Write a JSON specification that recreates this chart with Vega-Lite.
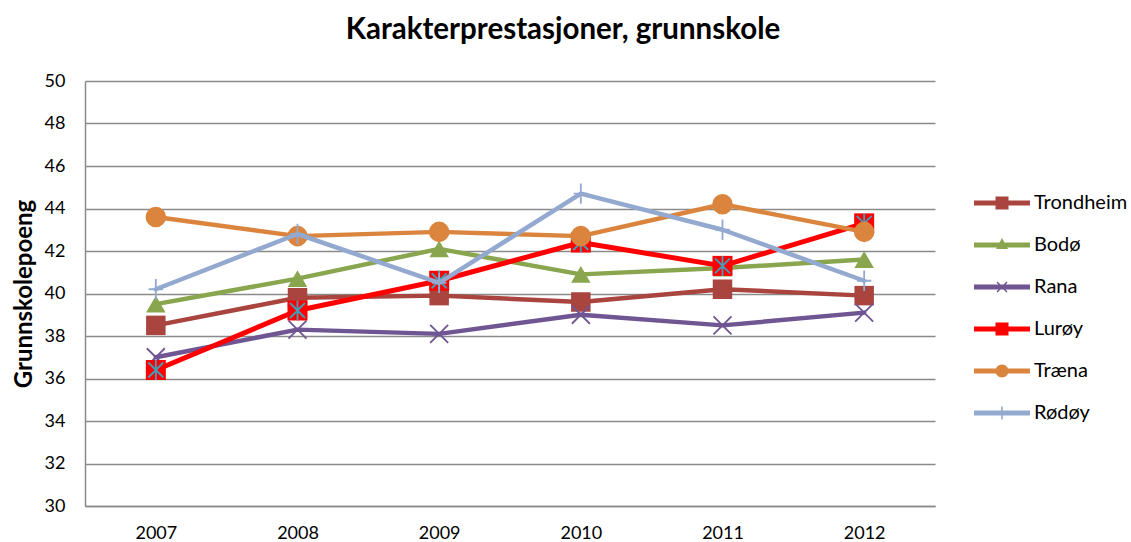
{
  "$schema": "https://vega.github.io/schema/vega-lite/v6.json",
  "width": 850,
  "height": 425,
  "autosize": "none",
  "padding": {"left": 85, "top": 81, "right": 196, "bottom": 36},
  "background": "white",
  "config": {"font": "Lato", "view": {"stroke": null}},
  "title": {"text": "Karakterprestasjoner, grunnskole", "fontSize": 29.5, "fontWeight": "bold", "color": "#000000", "anchor": "middle", "frame": "group", "dx": 53, "offset": 27},
  "data": {"values": [
    {"year": "2007", "series": "Trondheim", "value": 38.5},
    {"year": "2008", "series": "Trondheim", "value": 39.8},
    {"year": "2009", "series": "Trondheim", "value": 39.9},
    {"year": "2010", "series": "Trondheim", "value": 39.6},
    {"year": "2011", "series": "Trondheim", "value": 40.2},
    {"year": "2012", "series": "Trondheim", "value": 39.9},
    {"year": "2007", "series": "Bodø", "value": 39.5},
    {"year": "2008", "series": "Bodø", "value": 40.7},
    {"year": "2009", "series": "Bodø", "value": 42.1},
    {"year": "2010", "series": "Bodø", "value": 40.9},
    {"year": "2011", "series": "Bodø", "value": 41.2},
    {"year": "2012", "series": "Bodø", "value": 41.6},
    {"year": "2007", "series": "Rana", "value": 37.0},
    {"year": "2008", "series": "Rana", "value": 38.3},
    {"year": "2009", "series": "Rana", "value": 38.1},
    {"year": "2010", "series": "Rana", "value": 39.0},
    {"year": "2011", "series": "Rana", "value": 38.5},
    {"year": "2012", "series": "Rana", "value": 39.1},
    {"year": "2007", "series": "Lurøy", "value": 36.4},
    {"year": "2008", "series": "Lurøy", "value": 39.2},
    {"year": "2009", "series": "Lurøy", "value": 40.6},
    {"year": "2010", "series": "Lurøy", "value": 42.4},
    {"year": "2011", "series": "Lurøy", "value": 41.3},
    {"year": "2012", "series": "Lurøy", "value": 43.3},
    {"year": "2007", "series": "Træna", "value": 43.6},
    {"year": "2008", "series": "Træna", "value": 42.7},
    {"year": "2009", "series": "Træna", "value": 42.9},
    {"year": "2010", "series": "Træna", "value": 42.7},
    {"year": "2011", "series": "Træna", "value": 44.2},
    {"year": "2012", "series": "Træna", "value": 42.9},
    {"year": "2007", "series": "Rødøy", "value": 40.2},
    {"year": "2008", "series": "Rødøy", "value": 42.8},
    {"year": "2009", "series": "Rødøy", "value": 40.5},
    {"year": "2010", "series": "Rødøy", "value": 44.7},
    {"year": "2011", "series": "Rødøy", "value": 43.0},
    {"year": "2012", "series": "Rødøy", "value": 40.6}
  ]},
  "encoding": {
    "x": {"field": "year", "type": "ordinal", "scale": {"type": "point", "padding": 0.5},
      "axis": {"title": null, "labelAngle": 0, "ticks": false, "grid": false, "domainColor": "#8A8A8A", "domainWidth": 1.5, "labelFontSize": 18, "labelColor": "#000000", "labelPadding": 18}},
    "y": {"field": "value", "type": "quantitative", "scale": {"domain": [30, 50], "nice": false, "zero": false},
      "axis": {"title": "Grunnskolepoeng", "titleFontSize": 24, "titleFontWeight": "bold", "titleColor": "#000000", "titlePadding": 8,
        "values": [30, 32, 34, 36, 38, 40, 42, 44, 46, 48, 50], "ticks": false, "grid": true, "gridColor": "#8A8A8A", "gridWidth": 1.5,
        "domainColor": "#8A8A8A", "domainWidth": 1.5, "labelFontSize": 18, "labelColor": "#000000", "labelPadding": 20}},
    "color": {"field": "series", "type": "nominal",
      "scale": {"domain": ["Trondheim", "Bodø", "Rana", "Lurøy", "Træna", "Rødøy"], "range": ["#A9443F", "#89A54E", "#6F5592", "#FF0000", "#DB843D", "#93A9CF"]},
      "legend": {"orient": "none", "legendX": 889, "legendY": 112, "title": null, "padding": 0, "symbolSize": 400, "labelOffset": 40, "rowPadding": 22, "labelFontSize": 20, "labelColor": "#000000", "symbolStrokeWidth": 0,
        "encode": {"symbols": {"update": {
          "shape": {"signal": "datum.value == 'Trondheim' ? 'M-1,-0.25H4.6V0.25H-1ZM1.15,-0.65H2.45V0.65H1.15Z' : datum.value == 'Bodø' ? 'M-1,-0.25H4.6V0.25H-1ZM1.8,-0.7L2.4,0.4H1.2Z' : datum.value == 'Rana' ? 'M-1,-0.25H4.6V0.25H-1ZM1.35,-0.55L2.35,0.45L2.25,0.55L1.25,-0.45ZM2.35,-0.45L1.35,0.55L1.25,0.45L2.25,-0.55Z' : datum.value == 'Lurøy' ? 'M-1,-0.25H4.6V0.25H-1ZM1.15,-0.65H2.45V0.65H1.15Z' : datum.value == 'Træna' ? 'M-1,-0.25H4.6V0.25H-1ZM1.15,0A0.65,0.65 0 1,1 2.45,0A0.65,0.65 0 1,1 1.15,0Z' : 'M-1,-0.25H4.6V0.25H-1ZM1.72,-0.65H1.88V0.65H1.72Z'"},
          "size": {"value": 400},
          "fill": {"scale": "color", "field": "value"},
          "stroke": {"value": "transparent"},
          "strokeWidth": {"value": 0},
          "opacity": {"value": 1},
          "fillOpacity": {"value": 1}
        }}}}
    }
  },
  "layer": [
    {"transform": [{"filter": "datum.series == 'Trondheim'"}], "layer": [
      {"mark": {"type": "line", "strokeWidth": 4.5, "strokeJoin": "round", "strokeCap": "round"}},
      {"mark": {"type": "point", "shape": "square", "filled": true, "opacity": 1, "size": 380}}
    ]},
    {"transform": [{"filter": "datum.series == 'Bodø'"}], "layer": [
      {"mark": {"type": "line", "strokeWidth": 4.5, "strokeJoin": "round", "strokeCap": "round"}},
      {"mark": {"type": "point", "shape": "triangle-up", "filled": true, "opacity": 1, "size": 380}}
    ]},
    {"transform": [{"filter": "datum.series == 'Rana'"}], "layer": [
      {"mark": {"type": "line", "strokeWidth": 4.5, "strokeJoin": "round", "strokeCap": "round"}},
      {"mark": {"type": "point", "shape": "M-1,-1L1,1M1,-1L-1,1", "filled": false, "opacity": 1, "size": 324, "strokeWidth": 1.8}}
    ]},
    {"transform": [{"filter": "datum.series == 'Lurøy'"}], "layer": [
      {"mark": {"type": "line", "strokeWidth": 5, "strokeJoin": "round", "strokeCap": "round"}},
      {"mark": {"type": "point", "shape": "square", "filled": true, "opacity": 1, "size": 400}},
      {"mark": {"type": "point", "shape": "M-0.75,-0.75L0.75,0.75M0.75,-0.75L-0.75,0.75M0,-1V1", "filled": false, "opacity": 1, "size": 400, "strokeWidth": 1.8}, "encoding": {"color": {"value": "#3FA0BA"}}}
    ]},
    {"transform": [{"filter": "datum.series == 'Træna'"}], "layer": [
      {"mark": {"type": "line", "strokeWidth": 4.5, "strokeJoin": "round", "strokeCap": "round"}},
      {"mark": {"type": "point", "shape": "circle", "filled": true, "opacity": 1, "size": 420}}
    ]},
    {"transform": [{"filter": "datum.series == 'Rødøy'"}], "layer": [
      {"mark": {"type": "line", "strokeWidth": 4.5, "strokeJoin": "round", "strokeCap": "round"}},
      {"mark": {"type": "point", "shape": "M0,-1V1M-0.7,0H0.7", "filled": false, "opacity": 1, "size": 420, "strokeWidth": 1.8}}
    ]}
  ]
}
